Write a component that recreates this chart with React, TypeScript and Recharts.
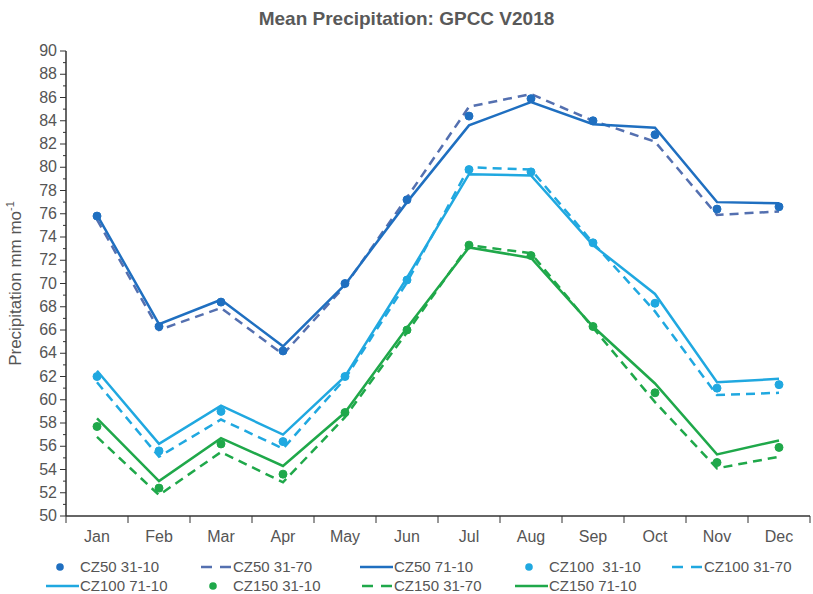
import { LineChart, Line, XAxis, YAxis } from 'recharts'

// months along the x axis
const months = ['Jan', 'Feb', 'Mar', 'Apr', 'May', 'Jun', 'Jul', 'Aug', 'Sep', 'Oct', 'Nov', 'Dec']

// CZ50
const cz50_3110 = [75.8, 66.3, 68.4, 64.2, 70.0, 77.2, 84.4, 85.9, 84.0, 82.8, 76.4, 76.6]
const cz50_3170 = [75.5, 66.0, 67.9, 63.9, 69.8, 77.4, 85.2, 86.3, 84.0, 82.2, 75.9, 76.2]
const cz50_7110 = [75.9, 66.5, 68.6, 64.6, 69.9, 77.0, 83.6, 85.6, 83.7, 83.4, 77.0, 76.9]

// CZ100
const cz100_3110 = [62.0, 55.6, 59.0, 56.4, 62.0, 70.3, 79.8, 79.6, 73.5, 68.3, 61.0, 61.3]
const cz100_3170 = [61.5, 55.1, 58.3, 55.8, 61.8, 70.1, 80.0, 79.8, 73.5, 67.6, 60.4, 60.6]
const cz100_7110 = [62.5, 56.2, 59.5, 57.0, 62.0, 70.5, 79.4, 79.3, 73.3, 69.1, 61.5, 61.8]

// CZ150
const cz150_3110 = [57.7, 52.4, 56.2, 53.6, 58.9, 66.0, 73.3, 72.4, 66.3, 60.6, 54.6, 55.9]
const cz150_3170 = [56.8, 51.8, 55.5, 52.9, 58.5, 65.8, 73.3, 72.6, 66.2, 59.8, 54.1, 55.1]
const cz150_7110 = [58.4, 53.0, 56.7, 54.3, 58.9, 66.2, 73.1, 72.2, 66.3, 61.4, 55.3, 56.5]

// labelled ticks every 2, minor ticks every 1
const yTicks = [50, 52, 54, 56, 58, 60, 62, 64, 66, 68, 70, 72, 74, 76, 78, 80, 82, 84, 86, 88, 90]
const yMinorTicks = [
  50, 51, 52, 53, 54, 55, 56, 57, 58, 59, 60, 61, 62, 63, 64, 65, 66, 67, 68, 69, 70,
  71, 72, 73, 74, 75, 76, 77, 78, 79, 80, 81, 82, 83, 84, 85, 86, 87, 88, 89, 90,
]

const DARK = '#1f6fc0'
const SLATE = '#5470b0'
const LIGHT = '#20a8e0'
const GREEN = '#1fa84a'
const TEXT = '#555555'
const FONT = "'Liberation Sans', Arial, sans-serif"

type Style = 'dot' | 'dash' | 'solid'

const series: { key: string; name: string; color: string; style: Style; values: number[] }[] = [
  { key: 'a', name: 'CZ50 31-10', color: DARK, style: 'dot', values: cz50_3110 },
  { key: 'b', name: 'CZ50 31-70', color: SLATE, style: 'dash', values: cz50_3170 },
  { key: 'c', name: 'CZ50 71-10', color: DARK, style: 'solid', values: cz50_7110 },
  { key: 'd', name: 'CZ100  31-10', color: LIGHT, style: 'dot', values: cz100_3110 },
  { key: 'e', name: 'CZ100 31-70', color: LIGHT, style: 'dash', values: cz100_3170 },
  { key: 'f', name: 'CZ100 71-10', color: LIGHT, style: 'solid', values: cz100_7110 },
  { key: 'g', name: 'CZ150 31-10', color: GREEN, style: 'dot', values: cz150_3110 },
  { key: 'h', name: 'CZ150 31-70', color: GREEN, style: 'dash', values: cz150_3170 },
  { key: 'i', name: 'CZ150 71-10', color: GREEN, style: 'solid', values: cz150_7110 },
]

const data = months.map((m, i) => {
  const row: Record<string, any> = { month: m }
  series.forEach(s => { row[s.key] = s.values[i] })
  return row
})

// legend text columns (Excel style, 5 per row)
const legendCols = [79, 232, 393, 548, 703]
const legendRows = [567, 586]

const YTick = (props: any) => {
  const { x, y, payload } = props
  const major = yTicks.includes(payload.value)
  return (
    <g>
      <line x1={x - (major ? 6 : 3)} x2={x} y1={y} y2={y} stroke="#333" strokeWidth={1} />
      {major && (
        <text x={x - 9} y={y} dy={5} textAnchor="end" fontSize={16} fill={TEXT} fontFamily={FONT}>
          {payload.value}
        </text>
      )}
    </g>
  )
}

const XTick = (props: any) => {
  const { x, y, payload, index } = props
  const half = payload.offset || 0
  return (
    <g>
      <line x1={x - half} x2={x - half} y1={y} y2={y + 7} stroke="#333" strokeWidth={1} />
      {index === months.length - 1 && (
        <line x1={x + half} x2={x + half} y1={y} y2={y + 7} stroke="#333" strokeWidth={1} />
      )}
      <text x={x} y={y + 26} textAnchor="middle" fontSize={16} fill={TEXT} fontFamily={FONT}>
        {payload.value}
      </text>
    </g>
  )
}

const YLabel = (props: any) => {
  const { viewBox } = props
  const cy = viewBox.y + viewBox.height / 2
  return (
    <text x={21} y={cy} transform={`rotate(-90, 21, ${cy})`} textAnchor="middle" fontSize={17} fill={TEXT} fontFamily={FONT}>
      Precipitation mm mo<tspan dy={-7} fontSize={11}>-1</tspan>
    </text>
  )
}

const LegendIcon = ({ color, style, x, y }: { color: string; style: Style; x: number; y: number }) => {
  if (style === 'dot') return <circle cx={x - 19} cy={y} r={3.8} fill={color} />
  if (style === 'dash')
    return <line x1={x - 31} x2={x - 1} y1={y} y2={y} stroke={color} strokeWidth={2.5} strokeDasharray="11 8" />
  return <line x1={x - 33} x2={x} y1={y} y2={y} stroke={color} strokeWidth={2.5} />
}

export default function App() {
  return (
    <div style={{ position: 'absolute', left: 0, top: 0, width: 813, height: 594, background: '#fff', fontFamily: FONT }}>
      <div style={{ position: 'absolute', top: 8, left: 0, width: 813, textAlign: 'center', fontSize: 19, fontWeight: 'bold', color: '#595959' }}>
        Mean Precipitation: GPCC V2018
      </div>
      <div style={{ position: 'absolute', left: 0, top: 0 }}>
        <LineChart width={813} height={550} data={data} margin={{ top: 51, right: 3, bottom: 4, left: 0 }}>
          <XAxis
            dataKey="month"
            scale="band"
            height={30}
            tickSize={0}
            tickMargin={0}
            tickLine={false}
            interval={0}
            axisLine={{ stroke: '#333', strokeWidth: 1.5 }}
            tick={<XTick />}
          />
          <YAxis
            domain={[50, 90]}
            ticks={yMinorTicks}
            interval={0}
            width={66}
            tickSize={0}
            tickMargin={0}
            tickLine={false}
            axisLine={{ stroke: '#333', strokeWidth: 1.5 }}
            tick={<YTick />}
            label={<YLabel />}
          />
          {series.map(s => (
            <Line
              key={s.key}
              dataKey={s.key}
              name={s.name}
              isAnimationActive={false}
              type="linear"
              stroke={s.style === 'dot' ? 'none' : s.color}
              strokeWidth={2.5}
              strokeDasharray={s.style === 'dash' ? '9 6' : undefined}
              dot={s.style === 'dot' ? { r: 4, fill: s.color, stroke: s.color, strokeWidth: 1 } : false}
              activeDot={false}
            />
          ))}
        </LineChart>
      </div>
      <svg width={813} height={594} style={{ position: 'absolute', left: 0, top: 0, pointerEvents: 'none' }}>
        {series.map((s, i) => {
          const x = legendCols[i % 5]
          const y = legendRows[Math.floor(i / 5)]
          return (
            <g key={s.key}>
              <LegendIcon color={s.color} style={s.style} x={x} y={y} />
              <text x={x + 1} y={y + 5} fontSize={15} fill={TEXT} fontFamily={FONT} style={{ whiteSpace: 'pre' }}>
                {s.name}
              </text>
            </g>
          )
        })}
      </svg>
    </div>
  )
}
